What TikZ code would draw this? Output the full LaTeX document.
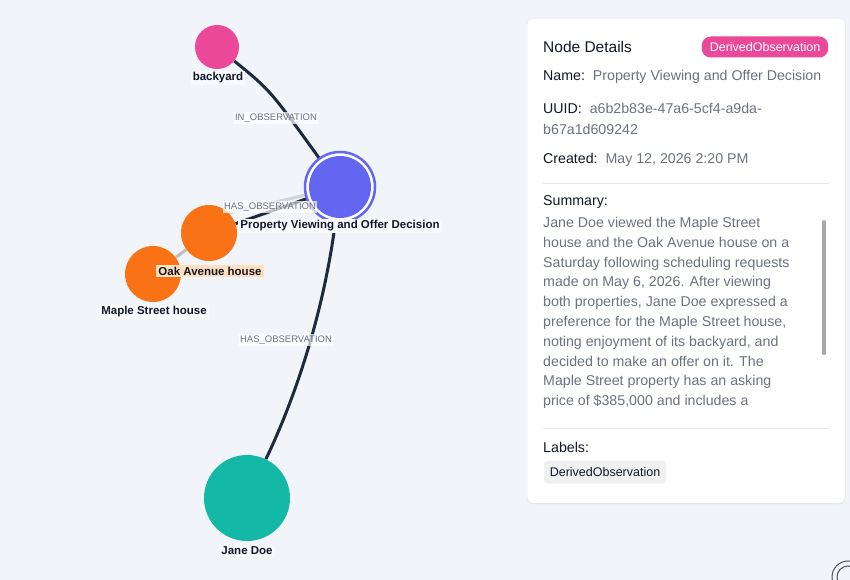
\documentclass[tikz,border=0pt]{standalone}
\usepackage{fontspec}
\setmainfont{Liberation Sans}
\usetikzlibrary{shadows}
\definecolor{bg}{HTML}{F1F5FA}
\definecolor{edge}{HTML}{1E293B}
\definecolor{pinkc}{HTML}{EC4899}
\definecolor{indigo}{HTML}{6366F1}
\definecolor{orangec}{HTML}{F97316}
\definecolor{tealc}{HTML}{14B8A6}
\definecolor{muted}{HTML}{6B7280}
\definecolor{dark}{HTML}{111827}
\definecolor{sep}{HTML}{E5E7EB}
\begin{document}
\begin{tikzpicture}[x=1pt,y=-1pt,
  gnode/.style={circle,inner sep=0,minimum size=#1},
  nlabel/.style={font=\fontsize{11.5}{13}\selectfont\bfseries,text=dark,fill=bg!60!white,inner sep=2pt},
  elabel/.style={font=\fontsize{9.5}{11}\selectfont,text=muted,fill=white,fill opacity=.7,text opacity=1,inner sep=1.5pt},
  link/.style={draw=edge,line width=3pt},
  ptxt/.style={font=\fontsize{14.2}{20}\selectfont,anchor=west,inner sep=0},
]
\fill[bg] (0,0) rectangle (850,580);
\useasboundingbox (0,0) rectangle (850,580);
% nodes
\node[gnode=44pt] (by) at (217,47) {};
\node[gnode=70pt] (pv) at (340,187) {};
\node[gnode=56pt] (oak) at (209,233) {};
\node[gnode=56pt] (map) at (153,274) {};
\node[gnode=86pt] (jd) at (247,498) {};
% edges
\draw[link] (by) .. controls (270,90) .. (pv);
\draw[link] (pv) .. controls (320,340) and (280,430) .. (jd);
\draw[link] (oak) -- (pv);
\draw[draw=edge!30,line width=3pt] (map) -- (oak);
\draw[draw=white!80!edge,line width=3pt] (oak.north east) -- (pv);
% node fills
\fill[pinkc] (by) circle (22);
\fill[orangec] (oak) circle (28);
\fill[orangec] (map) circle (28);
\fill[tealc] (jd) circle (43);
\fill[white] (pv) circle (35);
\draw[indigo,line width=2.5pt] (pv) circle (35);
\fill[indigo] (pv) circle (31);
% edge labels
\node[elabel] (e1) at (276,118) {IN\_OBSERVATION};
\node[elabel] (e2) at (270,207) {HAS\_OBSERVATION};
\node[elabel] (e3) at (286,340) {HAS\_OBSERVATION};
% node labels
\node[nlabel] (l1) at (218,78) {backyard};
\node[nlabel] (l2) at (340,226) {Property Viewing and Offer Decision};
\node[nlabel,fill=orange!25] (l3) at (210,271) {Oak Avenue house};
\node[nlabel] (l4) at (154,312) {Maple Street house};
\node[nlabel] (l5) at (247,551) {Jane Doe};
% panel
\node[draw=sep,fill=white,rounded corners=6pt,drop shadow={opacity=.15,shadow xshift=0pt,shadow yshift=-1pt},minimum width=318pt,minimum height=485pt,anchor=north west,inner sep=0] (panel) at (527,18) {};
\node[ptxt,font=\fontsize{15.5}{18}\selectfont,text=dark] (title) at (543,47) {Node Details};
\node[fill=pinkc,text=white,rounded corners=9pt,font=\fontsize{12.5}{14}\selectfont,inner xsep=8pt,minimum height=21pt] (badge) at (765,47) {DerivedObservation};
\node[ptxt] (nm) at (543,77) {\color{dark}Name:\ \ \color{muted}Property Viewing and Offer Decision};
\node[ptxt] (uu) at (543,108) {\color{dark}UUID:\ \ \color{muted}a6b2b83e-47a6-5cf4-a9da-};
\node[ptxt,text=muted] (uu2) at (543,129) {b67a1d609242};
\node[ptxt] (cr) at (543,160) {\color{dark}Created:\ \ \color{muted}May 12, 2026 2:20 PM};
\draw[sep] (543,183) -- (829,183);
\node[ptxt,text=dark] (su) at (543,202) {Summary:};
\node[anchor=north west,inner sep=0,text=muted,font=\fontsize{14.2}{19.8}\selectfont,align=left] (sum) at (543,217) {Jane Doe viewed the Maple Street\\house and the Oak Avenue house on a\\Saturday following scheduling requests\\made on May 6, 2026. After viewing\\both properties, Jane Doe expressed a\\preference for the Maple Street house,\\noting enjoyment of its backyard, and\\decided to make an offer on it. The\\Maple Street property has an asking\\price of \$385,000 and includes a};
\draw[line width=4pt,line cap=round,color=black!35] (824,222) -- (824,353);
\draw[sep] (543,428) -- (829,428);
\node[ptxt,text=dark] (lb) at (543,447) {Labels:};
\node[fill=black!6,rounded corners=4pt,font=\fontsize{12.5}{14}\selectfont,text=dark,inner xsep=6pt,minimum height=23pt] (lbb) at (605,472) {DerivedObservation};
% corner icon
\draw[black!70,line width=1pt] (848,577) circle (16);
\draw[black!70,line width=1pt] (848,577) circle (11);
\end{tikzpicture}
\end{document}
